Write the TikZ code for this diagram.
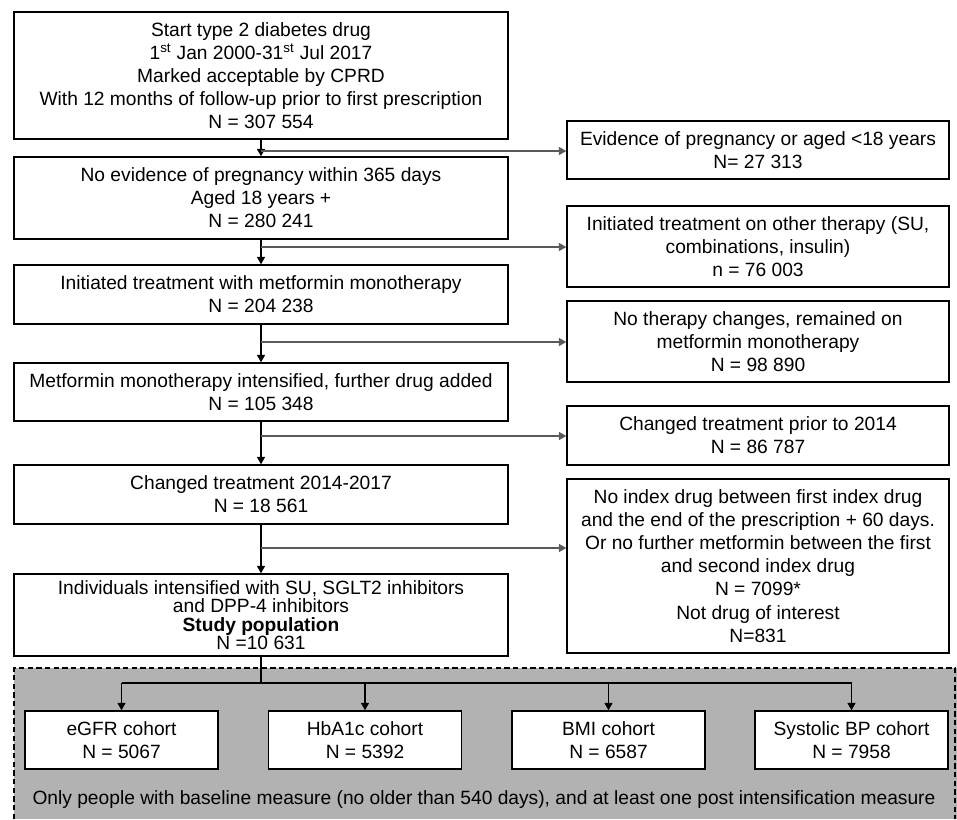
\documentclass[tikz,border=0pt]{standalone}
\usepackage{fontspec}
\setmainfont{Liberation Sans}
\usetikzlibrary{arrows.meta}
\definecolor{panelgray}{RGB}{178,178,178}
\definecolor{branchgray}{RGB}{90,90,90}
\begin{document}
\begin{tikzpicture}[x=0.75pt,y=-0.75pt,
  box/.style={draw=black,line width=1.1pt,fill=white,align=center,inner sep=0pt,
    font=\fontsize{14.4}{17.3}\selectfont},
  mainbox/.style={box,minimum width=494*0.75pt},
  sidebox/.style={box,minimum width=382*0.75pt},
  cohortbox/.style={box,minimum width=193*0.75pt,minimum height=58*0.75pt},
  arr/.style={draw=black,line width=0.8pt,-{Triangle[length=5.5pt,width=6pt]}},
  branch/.style={draw=branchgray,line width=0.8pt,-{Triangle[length=5.5pt,width=6pt]}}]
\useasboundingbox (0,0) rectangle (957,819);
% shaded panel
\fill[panelgray] (14,668) rectangle (957,819);
\draw[black,line width=1pt,dash pattern=on 4pt off 2.5pt] (14,819) -- (14,668) -- (955,668) -- (955,819);

% main column
\node[mainbox,minimum height=127*0.75pt] (m1) at (261,75.5) {Start type 2 diabetes drug\\1\textsuperscript{st} Jan 2000-31\textsuperscript{st} Jul 2017\\Marked acceptable by CPRD\\With 12 months of follow-up prior to first prescription\\N = 307 554};
\node[mainbox,minimum height=82*0.75pt] (m2) at (261,198) {No evidence of pregnancy within 365 days\\Aged 18 years +\\N = 280 241};
\node[mainbox,minimum height=59*0.75pt] (m3) at (261,294.5) {Initiated treatment with metformin monotherapy\\N = 204 238};
\node[mainbox,minimum height=58*0.75pt] (m4) at (261,392) {Metformin monotherapy intensified, further drug added\\N = 105 348};
\node[mainbox,minimum height=59*0.75pt] (m5) at (261,494.5) {Changed treatment 2014-2017\\N = 18 561};
\node[mainbox,minimum height=82*0.75pt,font=\fontsize{14.4}{13.9}\selectfont] (m6) at (261,615) {Individuals intensified with SU, SGLT2 inhibitors\\and DPP-4 inhibitors\\\textbf{Study population}\\N =10 631};

% side column
\node[sidebox,minimum height=58*0.75pt] (s1) at (758,150) {Evidence of pregnancy or aged <18 years\\N= 27 313};
\node[sidebox,minimum height=81*0.75pt] (s2) at (758,246.5) {Initiated treatment on other therapy (SU,\\combinations, insulin)\\n = 76 003};
\node[sidebox,minimum height=81*0.75pt] (s3) at (758,341.5) {No therapy changes, remained on\\metformin monotherapy\\N = 98 890};
\node[sidebox,minimum height=59*0.75pt] (s4) at (758,435.5) {Changed treatment prior to 2014\\N = 86 787};
\node[sidebox,minimum height=174*0.75pt] (s5) at (758,566) {No index drug between first index drug\\and the end of the prescription + 60 days.\\Or no further metformin between the first\\and second index drug\\N = 7099*\\Not drug of interest\\N=831};

% cohorts
\node[cohortbox] (c1) at (121.5,740) {eGFR cohort\\N = 5067};
\node[cohortbox] (c2) at (365,740) {HbA1c cohort\\N = 5392};
\node[cohortbox] (c3) at (608.5,740) {BMI cohort\\N = 6587};
\node[cohortbox] (c4) at (851.5,740) {Systolic BP cohort\\N = 7958};

\node[font=\fontsize{14.4}{17.3}\selectfont,inner sep=0pt] (note) at (484,800) {Only people with baseline measure (no older than 540 days), and at least one post intensification measure};

% vertical arrows
\draw[arr] (m1) -- (m2);
\draw[arr] (m2) -- (m3);
\draw[arr] (m3) -- (m4);
\draw[arr] (m4) -- (m5);
\draw[arr] (m5) -- (m6);

% branches
\coordinate (b1) at (261,151);
\coordinate (b2) at (261,247);
\coordinate (b3) at (261,342);
\coordinate (b4) at (261,436);
\coordinate (b5) at (261,548);
\draw[branch] (b1) -- (b1 -| s1.west);
\draw[branch] (b2) -- (b2 -| s2.west);
\draw[branch] (b3) -- (b3 -| s3.west);
\draw[branch] (b4) -- (b4 -| s4.west);
\draw[branch] (b5) -- (b5 -| s5.west);

% distribution to cohorts
\coordinate (hub) at (261,683);
\draw[draw=black,line width=0.8pt] (m6.south) -- (hub);
\draw[draw=black,line width=0.8pt] (c1.north |- hub) -- (c4.north |- hub);
\draw[arr] (c1.north |- hub) -- (c1.north);
\draw[arr] (c2.north |- hub) -- (c2.north);
\draw[arr] (c3.north |- hub) -- (c3.north);
\draw[arr] (c4.north |- hub) -- (c4.north);
\end{tikzpicture}
\end{document}
